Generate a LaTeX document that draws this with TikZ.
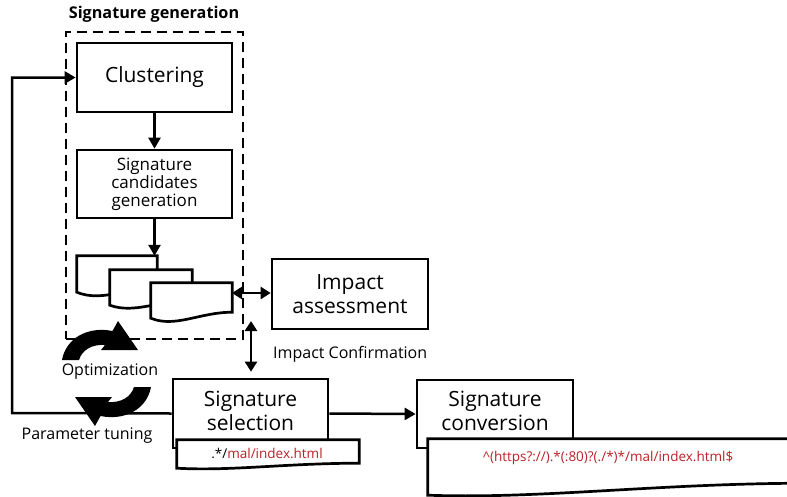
\documentclass[tikz,border=0pt]{standalone}
\usepackage{fontspec}
\setmainfont{Open Sans}
\usetikzlibrary{arrows.meta,calc}
\definecolor{sigred}{RGB}{185,35,40}
\newcommand\wavedoc[4]{%
  \draw[docline] (#1.north west) -- (#1.north east) -- ($(#1.south east)+(0,-#2)$)
    .. controls ($(#1.south east)!0.4!(#1.south west)+(0,-#2)$) and ($(#1.south west)!0.3!(#1.south east)+(0,#4)$)
    .. ($(#1.south west)+(0,-#3)$) -- cycle;}
\newcommand\cyclearrow{%
  (62,360) .. controls (66,338) and (88,326) .. (112.5,331) -- (118,321) -- (138,350) -- (101,350) -- (105,345)
  .. controls (92,344) and (82,350) .. (79,360) -- cycle}
\begin{document}
\begin{tikzpicture}[x=1pt,y=-1pt,
  box/.style={draw, line width=2.7pt, fill=white, inner sep=0pt, align=center},
  bigtxt/.style={font=\fontsize{21}{24}\selectfont},
  midtxt/.style={font=\fontsize{16}{18}\selectfont},
  candtxt/.style={font=\fontsize{17}{18}\selectfont},
  docnode/.style={inner sep=0pt},
  docline/.style={draw, line width=2.7pt, fill=white, line join=miter},
  arr/.style={line width=2.5pt, -{Triangle[length=11pt,width=12pt]}},
  dbl/.style={line width=2.5pt, {Triangle[length=10pt,width=12pt]}-{Triangle[length=10pt,width=12pt]}},
  codetxt/.style={font=\fontsize{13.5}{15}\selectfont, inner sep=0pt}]
\clip (0,0) rectangle (787,496);
\fill[white] (0,0) rectangle (787,496);

% dashed group
\node[font=\bfseries\fontsize{16.2}{18}\selectfont] (title) at (154,14) {Signature generation};
\node[draw, dashed, dash pattern=on 10pt off 6pt, line width=2.6pt, minimum width=177pt, minimum height=307pt, inner sep=0pt] (group) at (154.5,185.5) {};

\node[box, bigtxt, minimum width=155pt, minimum height=69pt] (clust) at (154.5,77.5) {Clustering};
\node[box, candtxt, minimum width=155pt, minimum height=68pt] (cand) at (154.5,184) {Signature\\candidates\\generation};

\node[docnode, minimum width=80pt, minimum height=40pt] (doc1) at (117,276) {};
\node[docnode, minimum width=82pt, minimum height=38pt] (doc2) at (151,289) {};
\node[docnode, minimum width=81pt, minimum height=38pt] (doc3) at (191.5,302) {};

\draw[arr] (clust) -- (cand);
\draw[arr] (cand.south) -- (cand.south |- doc1.north);

\wavedoc{doc1}{8}{4}{6}
\wavedoc{doc2}{8}{3}{6}
\wavedoc{doc3}{9}{3}{7}

\node[box, bigtxt, minimum width=156pt, minimum height=70pt] (impact) at (350,294) {Impact\\assessment};
\coordinate (d3r) at (232,293);
\draw[dbl] (d3r) -- (d3r -| impact.west);

% selection
\node[box, bigtxt, minimum width=155pt, minimum height=69pt, text depth=6pt] (sel) at (250.5,413.5) {Signature\\selection};
\node[docnode, minimum width=182pt, minimum height=29pt] (seldoc) at (268,454.5) {};
\wavedoc{seldoc}{6}{1}{2}
\node[codetxt] (seltxt) at (267,453) {.*/\textcolor{sigred}{mal/index.html}};

\coordinate (ictop) at (251,321);
\draw[dbl, shorten >=6pt] (ictop) -- (ictop |- sel.north);
\node[midtxt, anchor=west, inner sep=0pt] (iclabel) at (273,354) {Impact Confirmation};

% conversion
\node[box, bigtxt, minimum width=156pt, minimum height=68pt, text depth=6pt] (conv) at (495,414) {Signature\\conversion};
\node[docnode, minimum width=382pt, minimum height=58pt] (convdoc) at (619,468) {};
\wavedoc{convdoc}{14}{2}{2}
\node[codetxt, text=sigred] (convtxt) at (608,458) {\^{}(https?://).*(:80)?(./*)*/mal/index.html\$};

\draw[arr] (sel.east) -- (conv.west);

% feedback loop
\coordinate (fbk) at (12,413);
\draw[arr] (sel.west) -- (fbk) |- (clust.west);

% optimization cycle
\fill[black] \cyclearrow;
\fill[black, rotate around={180:(106.5,373.5)}] \cyclearrow;
\node[midtxt, inner sep=0pt] (opt) at (110,372) {Optimization};
\node[midtxt, inner sep=0pt] (ptune) at (87,436) {Parameter tuning};
\end{tikzpicture}
\end{document}
